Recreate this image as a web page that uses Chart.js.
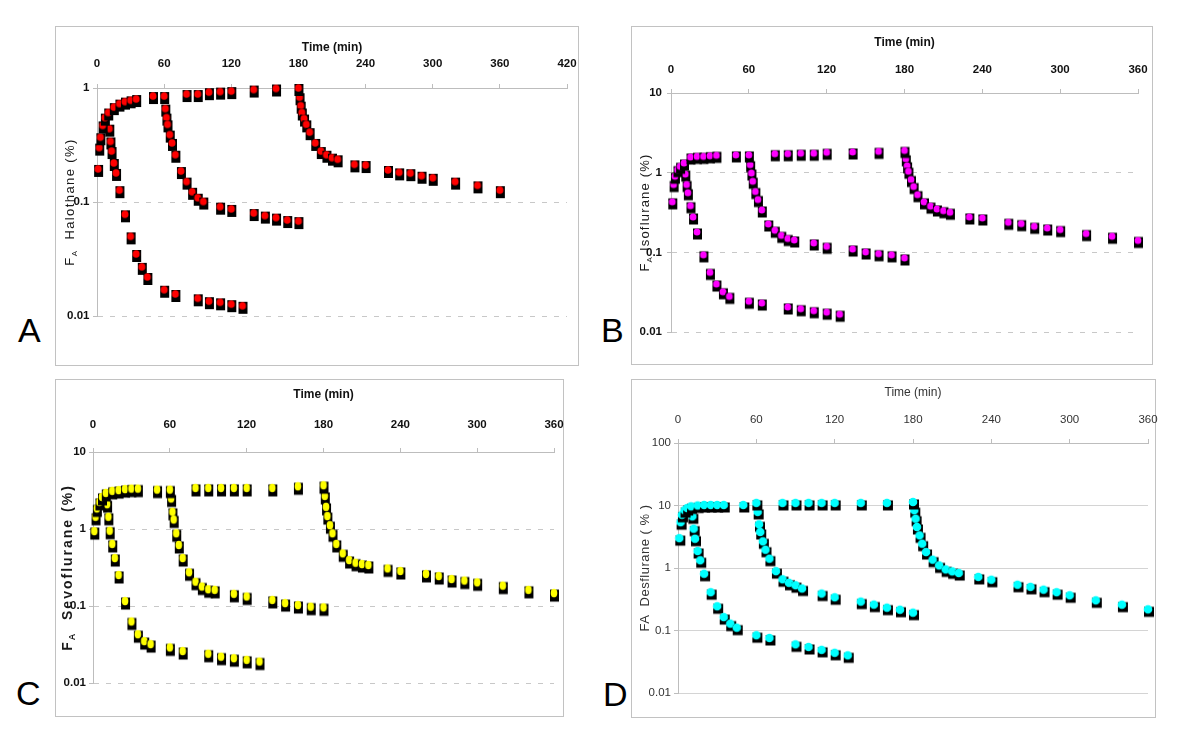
<!DOCTYPE html>
<html>
<head>
<meta charset="utf-8">
<script src="https://cdn.jsdelivr.net/npm/chart.js@4.4.1/dist/chart.umd.min.js"></script>
<style>
  body { margin: 0; background: #fff; width: 1200px; height: 734px; position: relative; overflow: hidden; }
  .box { position: absolute; border: 1px solid #c2c2c2; box-sizing: border-box; }
  canvas { position: absolute; }
  .letter { position: absolute; font: 34px "Liberation Sans", Arial, sans-serif; line-height: 34px; color: #000; }
</style>
</head>
<body>
<div class="box" style="left:55px;top:26px;width:524px;height:340px"></div>
<div class="box" style="left:631px;top:26px;width:522px;height:339px"></div>
<div class="box" style="left:55px;top:379px;width:509px;height:338px"></div>
<div class="box" style="left:631px;top:379px;width:525px;height:339px"></div>

<canvas id="chartA"></canvas>
<canvas id="chartB"></canvas>
<canvas id="chartC"></canvas>
<canvas id="chartD"></canvas>

<div class="letter" style="left:18px;top:313px">A</div>
<div class="letter" style="left:601px;top:313px">B</div>
<div class="letter" style="left:16px;top:676px">C</div>
<div class="letter" style="left:603px;top:677px">D</div>

<script>
// Tempos de amostragem (min)
const timeWashIn = [1, 2, 3, 5, 7, 10, 15, 20, 25, 30, 35, 50, 60, 80, 90, 100, 110, 120, 140, 160, 180];
const timeOut10 = [11, 12, 13, 15, 17, 20, 25, 30, 35, 40, 45, 60, 70, 90, 100, 110, 120, 130];
const timeOut60 = [61, 62, 63, 65, 67, 70, 75, 80, 85, 90, 95, 110, 120, 140, 150, 160, 170, 180];
const timeOut180 = [181, 182, 183, 185, 187, 190, 195, 200, 205, 210, 215, 230, 240, 260, 270, 280, 290, 300, 320, 340, 360];

// A - Halothane
const haloWashIn = [0.195, 0.30, 0.37, 0.47, 0.55, 0.61, 0.68, 0.73, 0.76, 0.78, 0.80, 0.85, 0.85, 0.885, 0.885, 0.92, 0.93, 0.94, 0.97, 0.99, 1.0];
const haloOut10 = [0.44, 0.34, 0.28, 0.22, 0.18, 0.127, 0.078, 0.050, 0.035, 0.027, 0.022, 0.017, 0.0156, 0.0143, 0.0135, 0.0132, 0.0127, 0.0123];
const haloOut60 = [0.66, 0.55, 0.48, 0.39, 0.33, 0.26, 0.187, 0.151, 0.123, 0.109, 0.101, 0.091, 0.087, 0.080, 0.076, 0.073, 0.0695, 0.068];
const haloOut180 = [0.83, 0.70, 0.61, 0.54, 0.48, 0.41, 0.33, 0.28, 0.26, 0.245, 0.237, 0.214, 0.211, 0.191, 0.182, 0.179, 0.170, 0.163, 0.151, 0.14, 0.127];

// B - Isoflurane
const isoWashIn = [0.43, 0.71, 0.90, 1.09, 1.2, 1.32, 1.57, 1.6, 1.6, 1.63, 1.65, 1.67, 1.67, 1.73, 1.73, 1.75, 1.75, 1.80, 1.82, 1.85, 1.90];
const isoOut10 = [0.96, 0.71, 0.56, 0.385, 0.278, 0.18, 0.093, 0.056, 0.040, 0.032, 0.028, 0.0243, 0.0231, 0.0206, 0.0196, 0.0185, 0.0177, 0.0167];
const isoOut60 = [1.26, 0.99, 0.78, 0.58, 0.46, 0.34, 0.227, 0.189, 0.163, 0.149, 0.143, 0.131, 0.119, 0.110, 0.101, 0.096, 0.093, 0.085];
const isoOut180 = [1.49, 1.22, 1.04, 0.82, 0.67, 0.53, 0.43, 0.38, 0.35, 0.333, 0.318, 0.278, 0.27, 0.238, 0.229, 0.212, 0.202, 0.193, 0.172, 0.159, 0.141];

// C - Sevoflurane
const sevoWashIn = [0.94, 1.44, 1.85, 2.25, 2.61, 2.94, 3.13, 3.2, 3.3, 3.35, 3.35, 3.25, 3.25, 3.42, 3.42, 3.42, 3.42, 3.42, 3.42, 3.59, 3.7];
const sevoOut10 = [2.1, 1.44, 0.95, 0.64, 0.42, 0.253, 0.116, 0.063, 0.043, 0.035, 0.032, 0.029, 0.026, 0.024, 0.022, 0.021, 0.020, 0.019];
const sevoOut60 = [2.49, 1.67, 1.33, 0.88, 0.62, 0.42, 0.274, 0.207, 0.179, 0.165, 0.162, 0.144, 0.133, 0.12, 0.109, 0.103, 0.098, 0.096];
const sevoOut180 = [2.69, 1.94, 1.47, 1.12, 0.88, 0.64, 0.483, 0.395, 0.365, 0.351, 0.341, 0.308, 0.285, 0.261, 0.245, 0.224, 0.214, 0.203, 0.184, 0.162, 0.147];

// D - Desflurane
const desWashIn = [3.0, 5.4, 7.1, 8.4, 9.1, 9.7, 10.0, 10.2, 10.2, 10.2, 10.2, 10.2, 11.0, 11.0, 11.0, 11.0, 11.0, 11.0, 11.0, 11.0, 11.4];
const desOut10 = [6.7, 4.26, 2.94, 1.87, 1.33, 0.81, 0.41, 0.244, 0.164, 0.129, 0.111, 0.084, 0.076, 0.060, 0.0545, 0.049, 0.044, 0.040];
const desOut60 = [7.9, 5.0, 3.77, 2.67, 1.96, 1.41, 0.89, 0.66, 0.58, 0.53, 0.47, 0.39, 0.34, 0.29, 0.26, 0.232, 0.215, 0.193];
const desOut180 = [8.4, 6.15, 4.53, 3.33, 2.45, 1.8, 1.36, 1.10, 0.95, 0.885, 0.83, 0.72, 0.65, 0.54, 0.50, 0.45, 0.41, 0.366, 0.304, 0.259, 0.218];

// Ticks do eixo y (décadas)
const decadesA = [0.01, 0.1, 1];
const decadesB = [0.01, 0.1, 1, 10];
const decadesC = [0.01, 0.1, 1, 10];
const decadesD = [0.01, 0.1, 1, 10, 100];

const sans = '"Liberation Sans", Arial, sans-serif';

function toPoints(times, values) {
    return times.map((t, i) => ({ x: t, y: values[i] }));
}

// marcador: quadrado preto com círculo colorido por cima
function makeMarker(fill, rx, ry, w, h, dx, dy) {
    const c = document.createElement('canvas');
    c.width = 22; c.height = 22;
    const g = c.getContext('2d');
    g.fillStyle = '#000';
    g.fillRect(11 + dx - w / 2, 11 + dy - h / 2, w, h);
    g.fillStyle = fill;
    g.beginPath();
    g.ellipse(11, 11, rx, ry, 0, 0, Math.PI * 2);
    g.fill();
    return c;
}

// título do eixo y com o "A" subscrito
function yTitlePlugin(t) {
    return {
        id: 'yTitle',
        afterDraw(chart) {
            const ctx = chart.ctx;
            const area = chart.chartArea;
            const cy = (area.top + area.bottom) / 2;
            ctx.save();
            ctx.translate(t.x, cy);
            ctx.rotate(-Math.PI / 2);
            ctx.fillStyle = t.color;
            ctx.textBaseline = 'alphabetic';
            ctx.letterSpacing = t.spacing + 'px';
            let total = 0;
            t.parts.forEach(p => {
                ctx.font = t.weight + ' ' + p.size + 'px ' + sans;
                p.w = ctx.measureText(p.text).width;
                total += p.w;
            });
            let pos = -total / 2;
            const base = t.size * 0.36;
            t.parts.forEach(p => {
                ctx.font = t.weight + ' ' + p.size + 'px ' + sans;
                ctx.fillText(p.text, pos, base + (p.sub ? 3 : 0));
                pos += p.w;
            });
            ctx.restore();
        }
    };
}

function buildPanel(id, p) {
    const canvas = document.getElementById(id);
    canvas.width = p.w + 20;
    canvas.height = p.h;
    canvas.style.left = p.left + 'px';
    canvas.style.top = p.top + 'px';

    const marker = makeMarker(...p.marker);
    const datasets = p.series.map(s => ({
        data: toPoints(s[0], s[1]),
        pointStyle: marker,
        pointRadius: 6,
        showLine: false,
        clip: false
    }));

    new Chart(canvas, {
        type: 'scatter',
        data: { datasets },
        options: {
            responsive: false,
            animation: false,
            layout: { padding: { left: 0, top: 0, right: p.padRight + 20, bottom: p.padBottom } },
            plugins: { legend: { display: false }, tooltip: { enabled: false } },
            scales: {
                x: {
                    type: 'linear',
                    position: 'top',
                    min: 0,
                    max: p.xMax,
                    afterFit: s => { s.height = p.axisTop; },
                    ticks: { stepSize: 60, padding: p.xTickPad, font: p.tickFont, color: p.textColor, maxRotation: 0, autoSkip: false },
                    grid: { drawOnChartArea: false, tickLength: 4, color: '#bdbdbd' },
                    border: { color: '#bdbdbd' },
                    title: { display: true, text: 'Time (min)', font: p.titleFont, color: p.textColor, padding: { top: p.xTitleTop, bottom: 0 } }
                },
                y: {
                    type: 'logarithmic',
                    min: p.decades[0],
                    max: p.decades[p.decades.length - 1],
                    afterFit: s => { s.width = p.axisLeft; },
                    afterBuildTicks: s => { s.ticks = p.decades.map(v => ({ value: v })); },
                    ticks: { padding: p.yTickPad, font: p.tickFont, color: p.textColor, callback: v => String(v) },
                    grid: { color: p.gridColor, tickLength: 4, tickColor: '#bdbdbd', tickBorderDash: [] },
                    border: { color: '#bdbdbd', dash: p.gridDash }
                }
            }
        },
        plugins: [yTitlePlugin(p.yTitle)]
    });
}

const boldTick = { family: sans, size: 11.5, weight: 'bold' };
const boldTitle = { family: sans, size: 12, weight: 'bold' };

buildPanel('chartA', {
    left: 55, top: 26, w: 524, h: 340,
    axisLeft: 42, axisTop: 62, padRight: 12, padBottom: 50,
    xMax: 420, decades: decadesA,
    xTickPad: 13.1, yTickPad: 3.5, xTitleTop: 14.8,
    tickFont: boldTick, titleFont: boldTitle, textColor: '#111',
    gridColor: '#c8c8c8', gridDash: [5, 7],
    marker: ['#ff0000', 3.5, 3.8, 9, 12, 0.5, 2],
    series: [[timeWashIn, haloWashIn], [timeOut10, haloOut10], [timeOut60, haloOut60], [timeOut180, haloOut180]],
    yTitle: { x: 14, size: 13, weight: 'normal', spacing: 1.4, color: '#1a1a1a',
        parts: [{ text: 'F', size: 13 }, { text: 'A', size: 8, sub: true }, { text: '  Halothane (%)', size: 13 }] }
});

buildPanel('chartB', {
    left: 631, top: 26, w: 522, h: 339,
    axisLeft: 40, axisTop: 67, padRight: 15, padBottom: 33,
    xMax: 360, decades: decadesB,
    xTickPad: 12.1, yTickPad: 5, xTitleTop: 9.8,
    tickFont: boldTick, titleFont: boldTitle, textColor: '#111',
    gridColor: '#c8c8c8', gridDash: [5, 7],
    marker: ['#ff00ff', 3.4, 3.6, 9, 11, 0.5, 2],
    series: [[timeWashIn, isoWashIn], [timeOut10, isoOut10], [timeOut60, isoOut60], [timeOut180, isoOut180]],
    yTitle: { x: 13, size: 13, weight: 'normal', spacing: 1.2, color: '#1a1a1a',
        parts: [{ text: 'F', size: 13 }, { text: 'A', size: 8, sub: true }, { text: ' Isoflurane (%)', size: 13 }] }
});

buildPanel('chartC', {
    left: 55, top: 379, w: 509, h: 338,
    axisLeft: 38, axisTop: 73, padRight: 10, padBottom: 34,
    xMax: 360, decades: decadesC,
    xTickPad: 16.1, yTickPad: 3, xTitleTop: 8.8,
    tickFont: boldTick, titleFont: boldTitle, textColor: '#111',
    gridColor: '#c8c8c8', gridDash: [5, 7],
    marker: ['#ffff00', 3.3, 4.2, 9, 12, 0.5, 2.5],
    series: [[timeWashIn, sevoWashIn], [timeOut10, sevoOut10], [timeOut60, sevoOut60], [timeOut180, sevoOut180]],
    yTitle: { x: 12, size: 14, weight: 'bold', spacing: 2, color: '#1a1a1a',
        parts: [{ text: 'F', size: 14 }, { text: 'A', size: 9, sub: true }, { text: '  Sevoflurane (%)', size: 14 }] }
});

buildPanel('chartD', {
    left: 631, top: 379, w: 525, h: 339,
    axisLeft: 47, axisTop: 64, padRight: 8, padBottom: 25,
    xMax: 360, decades: decadesD,
    xTickPad: 12.1, yTickPad: 3, xTitleTop: 6.8,
    tickFont: { family: sans, size: 11.5, weight: 'normal' },
    titleFont: { family: sans, size: 12, weight: 'normal' }, textColor: '#333',
    gridColor: '#d4d4d4', gridDash: [],
    marker: ['#00ffff', 4.3, 4.3, 10, 10, 1, 2.5],
    series: [[timeWashIn, desWashIn], [timeOut10, desOut10], [timeOut60, desOut60], [timeOut180, desOut180]],
    yTitle: { x: 13, size: 13, weight: 'normal', spacing: 0.5, color: '#333',
        parts: [{ text: 'FA  Desflurane ( % )', size: 13 }] }
});
</script>
</body>
</html>
